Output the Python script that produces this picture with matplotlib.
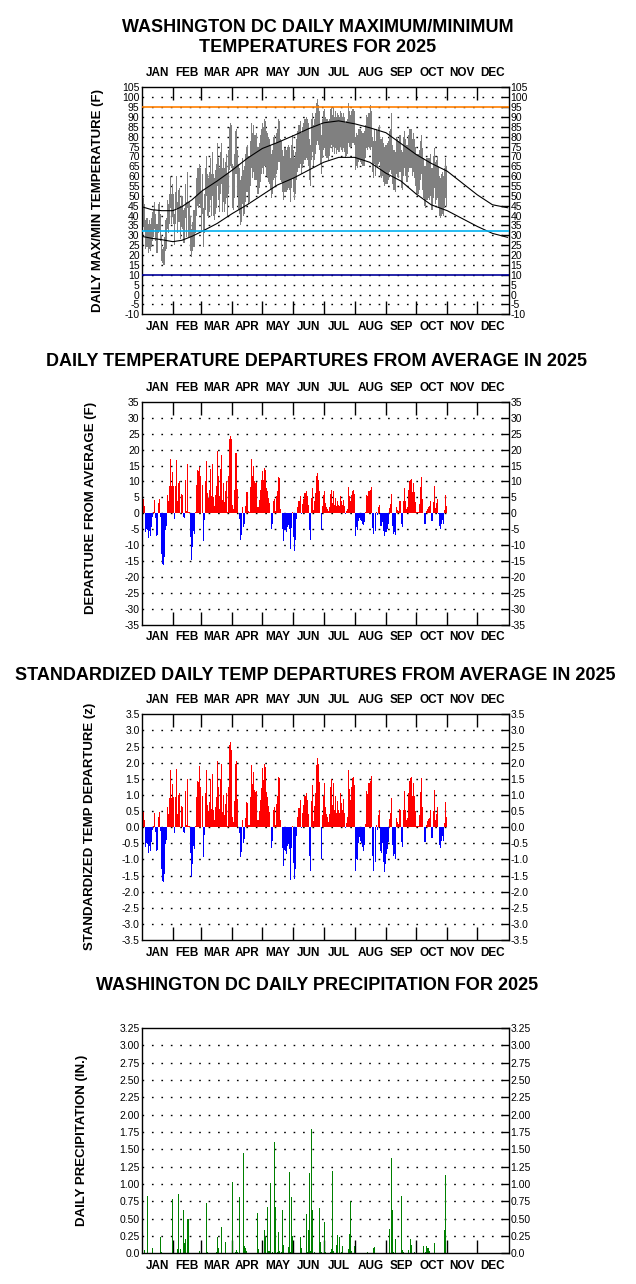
import matplotlib
matplotlib.use("Agg")
import matplotlib.pyplot as plt
from matplotlib.transforms import offset_copy, blended_transform_factory

plt.rcParams['font.family'] = ['Liberation Sans', 'DejaVu Sans']

# --- dates ---
month_names = ['JAN', 'FEB', 'MAR', 'APR', 'MAY', 'JUN', 'JUL', 'AUG', 'SEP', 'OCT', 'NOV', 'DEC']
month_starts = [0, 31, 59, 90, 120, 151, 181, 212, 243, 273, 304, 334, 365]

# --- normal high / low (day of year, deg F) ---
normal_days = [0, 10, 20, 31, 40, 50, 60, 75, 90, 105, 120, 135, 151, 166, 181, 196, 212, 227, 243,
               258, 273, 288, 304, 319, 334, 349, 364]
normal_high = [44.5, 43.0, 42.5, 42.5, 44.5, 48.0, 52.5, 57.5, 63.0, 69.0, 74.0, 77.0, 80.5, 84.0, 87.0,
               88.0, 86.5, 84.5, 82.0, 76.5, 71.0, 66.5, 62.5, 56.5, 50.5, 45.5, 44.0]
normal_low = [29.5, 28.5, 27.8, 26.8, 27.5, 29.5, 32.0, 36.0, 41.0, 45.5, 50.5, 55.5, 59.0, 63.0, 67.0,
              69.5, 69.5, 67.0, 61.5, 57.5, 51.0, 45.5, 42.5, 38.5, 34.5, 31.0, 29.0]

# --- observed daily max / min (deg F), Jan 1 - Oct 31 ---
tmax = [
    # jan
    54, 49, 46, 38, 39, 39, 36, 38, 36, 39, 42, 43, 47, 41, 36, 36, 46, 47, 41, 30, 23, 24, 29, 38, 39, 48, 46, 51, 60, 51, 56,
    # feb
    51, 41, 52, 60, 47, 53, 54, 44, 50, 50, 43, 44, 56, 47, 62, 47, 47, 40, 33, 37, 43, 43, 50, 59, 64, 64, 66, 64,
    # mar
    52, 61, 44, 51, 64, 70, 61, 59, 62, 69, 61, 72, 61, 59, 63, 66, 77, 69, 64, 72, 77, 64, 69, 64, 67, 71, 61, 73, 85, 87, 86,
    # apr
    66, 65, 71, 83, 84, 73, 66, 64, 58, 60, 69, 63, 65, 71, 75, 76, 70, 70, 78, 87, 82, 86, 81, 81, 82, 74, 75, 77, 81, 84,
    # may
    87, 85, 89, 88, 83, 82, 80, 79, 76, 71, 73, 80, 81, 77, 82, 84, 89, 88, 79, 78, 73, 70, 74, 74, 73, 75, 76, 75, 69, 76, 81,
    # jun
    73, 69, 72, 79, 83, 86, 86, 88, 82, 85, 87, 89, 90, 89, 87, 79, 76, 89, 92, 86, 89, 92, 97, 99, 96, 93, 86, 81, 89, 93,
    # jul
    94, 90, 89, 89, 88, 89, 94, 95, 91, 95, 90, 93, 90, 92, 91, 90, 93, 92, 90, 92, 90, 87, 88, 89, 97, 93, 91, 93, 94, 94, 93,
    # aug
    80, 82, 81, 84, 84, 84, 83, 82, 82, 83, 86, 91, 90, 92, 92, 96, 93, 80, 78, 84, 78, 84, 83, 85, 86, 79, 79, 80, 77, 75, 76,
    # sep
    76, 77, 78, 83, 84, 92, 76, 73, 73, 72, 80, 79, 78, 81, 81, 73, 72, 80, 83, 79, 76, 76, 81, 84, 84, 84, 79, 82, 79, 75,
    # oct
    71, 71, 71, 73, 78, 81, 74, 69, 65, 65, 69, 69, 69, 69, 71, 64, 64, 70, 74, 67, 68, 70, 65, 60, 59, 61, 62, 60, 64, 69, 65,
]
tmin = [
    # jan
    38, 34, 32, 23, 24, 24, 21, 23, 22, 24, 27, 29, 33, 27, 21, 21, 31, 32, 27, 17, 16, 15, 15, 22, 23, 33, 31, 36, 44, 36, 40,
    # feb
    36, 25, 36, 44, 31, 37, 37, 28, 34, 33, 26, 26, 39, 29, 44, 29, 29, 22, 19, 22, 24, 24, 31, 40, 45, 44, 46, 44,
    # mar
    32, 41, 24, 31, 43, 50, 40, 39, 42, 48, 40, 50, 40, 38, 41, 44, 55, 48, 42, 51, 56, 42, 47, 42, 46, 49, 40, 51, 63, 65, 64,
    # apr
    44, 43, 49, 61, 61, 50, 43, 41, 35, 37, 46, 40, 41, 47, 52, 52, 46, 47, 55, 64, 59, 62, 58, 58, 58, 51, 51, 54, 57, 61,
    # may
    64, 61, 65, 65, 60, 59, 57, 56, 53, 49, 51, 58, 59, 55, 61, 63, 67, 67, 58, 57, 52, 48, 52, 52, 52, 53, 54, 53, 47, 54, 59,
    # jun
    52, 48, 51, 58, 62, 64, 64, 66, 61, 64, 66, 68, 69, 68, 65, 58, 55, 68, 72, 65, 68, 71, 76, 78, 76, 73, 66, 61, 69, 73,
    # jul
    74, 70, 69, 69, 68, 70, 74, 76, 72, 75, 71, 74, 71, 73, 72, 72, 75, 73, 72, 74, 72, 69, 70, 71, 77, 75, 74, 75, 77, 77, 76,
    # aug
    63, 65, 64, 67, 68, 67, 66, 65, 65, 65, 69, 74, 73, 75, 74, 73, 75, 62, 59, 66, 60, 65, 64, 66, 67, 60, 59, 60, 57, 55, 56,
    # sep
    56, 56, 58, 62, 63, 61, 56, 53, 53, 52, 61, 60, 59, 62, 62, 54, 53, 60, 64, 60, 57, 57, 62, 64, 64, 64, 60, 62, 59, 55,
    # oct
    51, 51, 51, 53, 58, 61, 53, 49, 45, 44, 48, 48, 49, 48, 50, 43, 43, 49, 54, 46, 48, 49, 44, 40, 39, 40, 41, 40, 44, 49, 45,
]

# --- daily departure from average (F), Jan 1 - Oct 31 ---
dep = [
    # jan
    9.0, 4.6, 2.2, -6.0, -4.8, -5.1, -7.8, -5.5, -7.0, -4.3, -1.0, 0.3, 4.3, -1.5, -7.0, -6.8,
    3.2, 4.5, -1.1, -12.6, -15.9, -16.3, -13.8, -5.1, -3.9, 5.9, 3.8, 8.7, 17.1, 8.7, 13.0,
    # feb
    8.7, -1.7, 8.7, 16.8, 3.8, 9.5, 10.2, 0.2, 6.2, 5.9, -1.3, -1.6, 10.6, 0.8, 15.5, 0.5,
    0.4, -7.5, -14.7, -10.7, -5.4, -6.5, 0.5, 9.0, 13.7, 13.2, 14.5, 11.8,
    # mar
    0.2, 9.0, -8.8, -2.2, 10.0, 16.5, 6.4, 4.8, 7.4, 13.9, 5.3, 15.6, 5.1, 2.2, 5.9, 8.7,
    19.4, 11.6, 5.3, 13.9, 18.4, 4.3, 9.5, 3.6, 6.9, 10.0, 0.3, 11.6, 23.4, 24.3, 23.4,
    # apr
    2.7, 1.5, 7.2, 18.9, 18.9, 7.6, 0.2, -1.7, -8.3, -6.9, 2.0, -4.4, -3.3, 2.4, 6.8, 6.6,
    0.6, 0.5, 8.3, 17.1, 11.8, 15.0, 10.0, 9.5, 9.8, 2.0, 2.0, 4.3, 7.4, 10.6,
    # may
    13.4, 10.6, 14.3, 13.7, 7.9, 6.9, 4.8, 3.4, 0.1, -4.8, -3.2, 3.8, 4.6, 0.6, 5.3, 7.1,
    11.4, 11.0, 1.5, 0.1, -4.8, -8.8, -5.1, -5.3, -6.0, -4.3, -3.8, -4.9, -11.2, -4.7, 0.3,
    # jun
    -7.4, -11.8, -8.5, -1.8, 2.0, 3.8, 3.8, 5.5, -0.2, 2.9, 4.6, 6.4, 6.9, 5.5, 2.7, -5.3,
    -8.2, 4.8, 7.9, 1.1, 4.0, 6.4, 11.6, 12.8, 10.6, 6.9, 0.1, -5.3, 2.2, 5.9,
    # jul
    6.9, 3.2, 2.0, 1.5, 0.8, 2.0, 6.2, 7.4, 3.4, 6.9, 2.7, 4.8, 2.2, 4.0, 2.7, 2.2,
    5.3, 3.8, 2.7, 4.3, 2.2, -0.2, 0.6, 1.5, 8.3, 5.5, 4.0, 5.9, 7.1, 7.4, 6.2,
    # aug
    -7.0, -4.3, -5.3, -2.5, -1.5, -2.2, -2.5, -3.3, -3.8, -2.8, 0.5, 5.9, 5.3, 7.1, 7.1, 7.4,
    8.3, -4.6, -6.5, 0.1, -5.6, 0.4, -0.4, 2.0, 2.7, -3.9, -4.1, -2.6, -5.6, -7.2, -5.9,
    # sep
    -5.9, -4.8, -3.2, 1.7, 3.0, 6.2, -3.9, -6.4, -5.9, -6.9, 2.0, 1.1, 0.7, 4.0, 3.8, -3.2,
    -4.4, 3.8, 7.9, 3.8, 1.5, 1.9, 7.4, 10.0, 10.6, 10.9, 6.8, 9.5, 6.8, 3.6,
    # oct
    0.3, 0.3, 0.4, 3.0, 8.3, 11.5, 4.6, 0.1, -3.4, -3.4, 0.6, 1.4, 2.0, 2.2, 4.0, -2.5,
    -2.5, 3.7, 8.7, 1.7, 3.2, 4.6, -0.1, -4.1, -5.0, -3.2, -2.0, -3.3, 0.9, 5.9, 2.4,
]

# --- standardized departure (z) ---
zdep = [
    # jan
    0.94, 0.48, 0.23, -0.63, -0.50, -0.53, -0.81, -0.57, -0.73, -0.45, -0.10, 0.03, 0.45, -0.16, -0.73, -0.71,
    0.33, 0.47, -0.11, -1.31, -1.66, -1.70, -1.44, -0.53, -0.41, 0.61, 0.40, 0.91, 1.78, 0.91, 1.35,
    # feb
    0.92, -0.18, 0.92, 1.80, 0.40, 1.00, 1.07, 0.02, 0.65, 0.62, -0.14, -0.17, 1.12, 0.08, 1.48, 0.05,
    0.04, -0.79, -1.55, -1.13, -0.57, -0.68, 0.05, 0.95, 1.44, 1.39, 1.90, 1.24,
    # mar
    0.02, 0.96, -0.94, -0.23, 1.06, 1.76, 0.68, 0.51, 0.79, 1.48, 0.56, 1.66, 0.54, 0.23, 0.63, 0.93,
    2.06, 1.23, 0.56, 1.48, 1.96, 0.46, 1.01, 0.38, 0.73, 1.06, 0.03, 1.23, 2.55, 2.64, 2.40,
    # apr
    0.31, 0.17, 0.82, 1.95, 2.05, 0.86, 0.02, -0.19, -0.94, -0.78, 0.23, -0.50, -0.38, 0.27, 0.77, 0.75,
    0.07, 0.06, 0.94, 1.94, 1.34, 1.70, 1.14, 1.08, 1.11, 0.23, 0.23, 0.49, 0.84, 1.20,
    # may
    1.84, 1.45, 1.96, 1.88, 1.08, 0.95, 0.66, 0.47, 0.01, -0.66, -0.44, 0.52, 0.63, 0.08, 0.73, 0.97,
    1.56, 1.51, 0.21, 0.01, -0.66, -1.21, -0.70, -0.73, -0.82, -0.59, -0.52, -0.67, -1.65, -0.64, 0.04,
    # jun
    -1.12, -1.60, -1.29, -0.27, 0.30, 0.58, 0.58, 0.83, -0.03, 0.44, 0.70, 0.97, 1.05, 0.83, 0.41, -0.88,
    -1.37, 0.80, 1.32, 0.18, 0.67, 1.07, 1.93, 2.13, 1.95, 1.40, 0.02, -1.00, 0.37, 0.98,
    # jul
    1.38, 0.64, 0.40, 0.30, 0.16, 0.40, 1.24, 1.48, 0.68, 1.38, 0.54, 0.96, 0.44, 0.80, 0.54, 0.44,
    1.06, 0.76, 0.54, 0.86, 0.44, -0.04, 0.12, 0.30, 1.76, 1.17, 0.85, 1.26, 1.51, 1.57, 1.32,
    # aug
    -1.35, -1.00, -1.02, -0.48, -0.29, -0.42, -0.48, -0.63, -0.73, -0.54, 0.10, 1.13, 1.02, 1.37, 1.37, 1.42,
    1.60, -0.88, -1.37, 0.02, -1.08, 0.08, -0.08, 0.38, 0.52, -0.75, -0.79, -0.50, -1.08, -1.38, -1.13,
    # sep
    -0.84, -0.69, -0.46, 0.24, 0.43, 0.89, -0.56, -0.91, -0.84, -0.99, 0.29, 0.16, 0.10, 0.57, 0.54, -0.46,
    -0.63, 0.54, 1.13, 0.54, 0.21, 0.27, 1.06, 1.43, 1.51, 1.56, 0.97, 1.36, 0.97, 0.51,
    # oct
    0.04, 0.04, 0.05, 0.39, 1.09, 1.51, 0.61, 0.01, -0.45, -0.45, 0.08, 0.18, 0.26, 0.29, 0.53, -0.33,
    -0.33, 0.49, 1.14, 0.22, 0.42, 0.61, -0.01, -0.54, -0.66, -0.42, -0.26, -0.43, 0.12, 0.78, 0.32,
]

# --- daily precipitation (day of year 0-based, inches); other days 0 ---
precip_day = [2, 5, 10, 15, 18, 19, 29, 30, 35, 36, 38, 41, 42, 43, 45, 46, 49, 57, 64, 65,
              72, 74, 75, 76, 79, 83, 90, 93, 94, 95, 97, 101, 102, 103, 104, 111, 115, 116, 120, 122,
              123, 125, 126, 127, 128, 130, 132, 133, 135, 136, 137, 139, 140, 141, 146, 147, 148, 149, 150, 157,
              158, 159, 163, 164, 165, 166, 167, 168, 169, 171, 176, 177, 178, 181, 182, 187, 188, 189, 190, 193,
              194, 196, 198, 199, 200, 205, 206, 207, 208, 211, 216, 224, 225, 230, 231, 235, 246, 248, 249, 250,
              252, 253, 258, 259, 260, 262, 265, 267, 268, 269, 271, 279, 280, 282, 283, 284, 285, 286, 291, 292,
              293, 300, 301, 302]
precip_in = [0.05, 0.83, 0.07, 0.01, 0.24, 0.02, 0.01, 0.79, 0.06, 0.86, 0.06, 0.62, 0.15, 0.21, 0.49, 0.49, 0.01, 0.03, 0.72, 0.02,
             0.01, 0.02, 0.23, 0.08, 0.38, 0.16, 1.03, 0.02, 0.05, 0.02, 0.81, 1.45, 0.11, 0.08, 0.03, 0.01, 0.58, 0.06, 0.01, 0.33,
             0.24, 0.67, 0.04, 0.03, 1.01, 0.02, 1.61, 0.67, 0.02, 0.31, 0.03, 0.02, 0.63, 0.12, 0.09, 1.17, 0.02, 0.81, 0.25, 0.01,
             0.24, 0.07, 0.56, 0.02, 0.34, 1.16, 0.03, 1.80, 0.62, 0.02, 0.65, 0.17, 0.02, 0.45, 0.02, 0.02, 0.06, 1.19, 0.03, 0.12,
             0.27, 0.23, 0.02, 0.11, 0.01, 0.06, 0.28, 0.75, 0.03, 0.10, 0.01, 0.02, 0.01, 0.07, 0.09, 0.01, 0.35, 1.37, 0.63, 0.02,
             0.21, 0.01, 0.83, 0.05, 0.02, 0.01, 0.05, 0.21, 0.12, 0.01, 0.02, 0.01, 0.11, 0.02, 0.11, 0.08, 0.08, 0.03, 0.15, 0.01,
             0.01, 0.01, 0.33, 1.13]

W, H = 636, 1284
fig = plt.figure(figsize=(W / 100, H / 100), dpi=100)


def axes_px(left, top, right, bottom):
    return fig.add_axes([left / W, 1 - bottom / H, (right - left) / W, (bottom - top) / H])


def style_panel(ax, ymin, ymax, ystep, fmt, top_months=True):
    ax.set_xlim(0, 365)
    ax.set_ylim(ymin, ymax)
    n = int(round((ymax - ymin) / ystep))
    ticks = [ymin + i * ystep for i in range(n + 1)]
    ax.set_yticks(ticks)
    ax.set_yticklabels([fmt(t) for t in ticks])
    ax.tick_params(axis='y', left=False, right=True, labelleft=True, labelright=True,
                   direction='in', length=6, width=1, labelsize=7.5, pad=1.5)
    ax.set_xticks(month_starts[1:12])
    ax.tick_params(axis='x', top=top_months, bottom=True, direction='in', length=9.5,
                   width=1, labelbottom=False)
    for t in ticks[1:-1]:
        ax.axhline(t, color='black', lw=1.0, ls=(0, (1.2, 5.6)), zorder=0)
    for s in ax.spines.values():
        s.set_linewidth(1.0)
    trans = blended_transform_factory(ax.transData, ax.transAxes)
    below = offset_copy(trans, fig=fig, y=-9, units='points')
    above = offset_copy(trans, fig=fig, y=10, units='points')
    for i, name in enumerate(month_names):
        mid = (month_starts[i] + month_starts[i + 1]) / 2
        ax.text(mid, 0, name, transform=below, ha='center', va='center',
                fontsize=8.5, fontweight='bold')
        if top_months:
            ax.text(mid, 1, name, transform=above, ha='center', va='center',
                    fontsize=8.5, fontweight='bold')


def bar_colors(vals):
    return ['#FF0000' if v >= 0 else '#0000FF' for v in vals]


days = list(range(len(dep)))

# panel 1: max / min temperatures
ax1 = axes_px(141.7, 87.3, 508.5, 314.3)
style_panel(ax1, -10, 105, 5, lambda t: '%d' % t)
spans = [hi - lo for hi, lo in zip(tmax, tmin)]
ax1.bar(list(range(len(tmax))), spans, bottom=tmin, width=1, align='edge', color='#808080',
        linewidth=0, zorder=2)
ax1.plot(normal_days, normal_high, color='black', lw=0.8, zorder=3)
ax1.plot(normal_days, normal_low, color='black', lw=0.8, zorder=3)
ax1.axhline(95, color='#FF7F00', lw=1.2, zorder=4)
ax1.axhline(32, color='#00B0F0', lw=1.2, zorder=4)
ax1.axhline(10, color='#000099', lw=1.2, zorder=4)

# panel 2: departures
ax2 = axes_px(141.7, 401.7, 508.5, 625.0)
style_panel(ax2, -35, 35, 5, lambda t: '%d' % t)
ax2.bar(days, dep, width=1, align='edge', color=bar_colors(dep), linewidth=0, zorder=2)

# panel 3: standardized departures
ax3 = axes_px(141.7, 714.3, 508.5, 940.0)
style_panel(ax3, -3.5, 3.5, 0.5, lambda t: '%.1f' % t)
ax3.bar(days, zdep, width=1, align='edge', color=bar_colors(zdep), linewidth=0, zorder=2)

# panel 4: precipitation
ax4 = axes_px(141.7, 1028.0, 508.5, 1253.3)
style_panel(ax4, 0, 3.25, 0.25, lambda t: '0.0' if t == 0 else '%.2f' % t, top_months=False)
ax4.bar(precip_day, precip_in, width=1, align='edge', color='#008000', linewidth=0, zorder=2)

# titles
title_kw = dict(ha='center', va='center', fontsize=13, fontweight='bold')
fig.text(318 / W, 1 - 27 / H, 'WASHINGTON DC DAILY MAXIMUM/MINIMUM', **title_kw)
fig.text(318 / W, 1 - 47 / H, 'TEMPERATURES FOR 2025', **title_kw)
fig.text(317 / W, 1 - 362 / H, 'DAILY TEMPERATURE DEPARTURES FROM AVERAGE IN 2025', **title_kw)
fig.text(315 / W, 1 - 676 / H, 'STANDARDIZED DAILY TEMP DEPARTURES FROM AVERAGE IN 2025', **title_kw)
fig.text(317 / W, 1 - 985 / H, 'WASHINGTON DC DAILY PRECIPITATION FOR 2025', **title_kw)

# y-axis labels
ylab_kw = dict(rotation=90, ha='center', va='center', fontsize=9.5, fontweight='bold')
fig.text(98 / W, 1 - 200 / H, 'DAILY MAX/MIN TEMPERATURE (F)', **ylab_kw)
fig.text(91 / W, 1 - 508 / H, 'DEPARTURE FROM AVERAGE (F)', **ylab_kw)
fig.text(90 / W, 1 - 826 / H, 'STANDARDIZED TEMP DEPARTURE (z)', **ylab_kw)
fig.text(82 / W, 1 - 1140 / H, 'DAILY PRECIPITATION (IN.)', **ylab_kw)

fig.savefig('out.png', dpi=100)
